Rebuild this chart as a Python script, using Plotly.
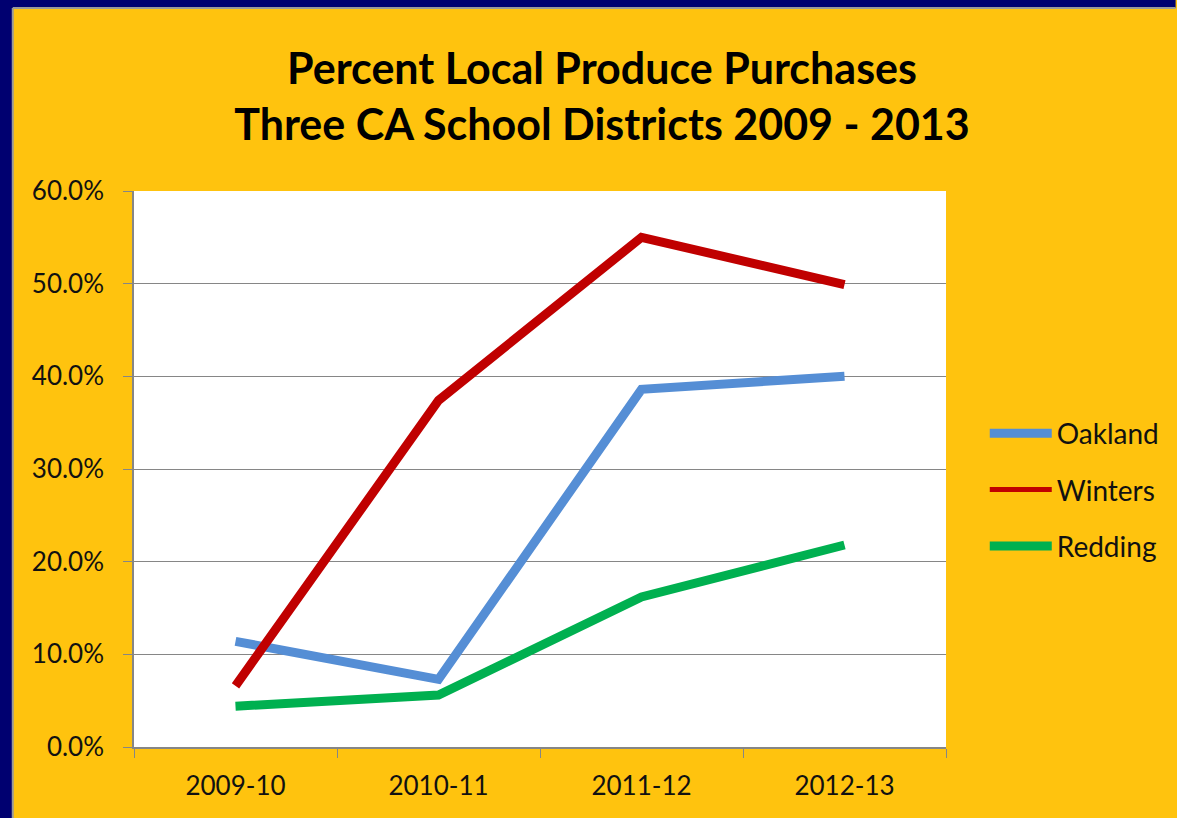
import plotly.graph_objects as go

categories = ["2009-10", "2010-11", "2011-12", "2012-13"]
oakland = [0.114, 0.073, 0.386, 0.400]
winters = [0.066, 0.374, 0.550, 0.499]
redding = [0.044, 0.056, 0.162, 0.218]
y_ticks = [0.0, 0.1, 0.2, 0.3, 0.4, 0.5, 0.6]

BLUE = "#558ED5"
RED = "#C00000"
GREEN = "#00B050"
YELLOW = "#FFC30E"
NAVY = "#000070"
FONT = "Lato, Carlito, Calibri, sans-serif"

fig = go.Figure()
series = [("Oakland", oakland, BLUE, 9), ("Winters", winters, RED, 9), ("Redding", redding, GREEN, 9)]
legend_w = {"Oakland": 9, "Winters": 5, "Redding": 9}
for name, vals, col, w in series:
    fig.add_trace(go.Scatter(x=categories, y=vals, mode="lines", name=name,
                             line=dict(color=col, width=w), showlegend=False,
                             hoverinfo="skip"))
for name, vals, col, w in series:
    fig.add_trace(go.Scatter(x=[categories[0]], y=[None], mode="lines", name=name,
                             line=dict(color=col, width=legend_w[name]),
                             legendgroup=name, showlegend=True))

L, R, T, B = 134, 951, 191, 747
W, H = 1177, 818
pw, ph = R - L, B - T

def px_x(p):
    return (p - L) / pw

def px_y(p):
    return (B - p) / ph

shapes = [
    dict(type="rect", xref="paper", yref="paper", x0=px_x(-5), x1=px_x(12), y0=px_y(H + 5), y1=px_y(-5),
         fillcolor=NAVY, line_width=0, layer="above"),
    dict(type="rect", xref="paper", yref="paper", x0=px_x(-5), x1=px_x(W + 5), y0=px_y(8), y1=px_y(-5),
         fillcolor=NAVY, line_width=0, layer="above"),
    dict(type="line", xref="paper", yref="paper", x0=px_x(12), x1=px_x(12), y0=px_y(H + 5), y1=px_y(8),
         line=dict(color="#9A9A9A", width=2), layer="above"),
    dict(type="line", xref="paper", yref="paper", x0=px_x(12), x1=px_x(W + 5), y0=px_y(8), y1=px_y(8),
         line=dict(color="#9A9A9A", width=2), layer="above"),
]

fig.update_layout(
    width=W, height=H,
    margin=dict(l=L, r=W - R, t=T, b=H - B, pad=0),
    paper_bgcolor=YELLOW, plot_bgcolor="white",
    font=dict(family=FONT, color="#000000"),
    title=dict(text="<b>Percent Local Produce Purchases<br>Three CA School Districts 2009 - 2013</b>",
               font=dict(size=43, family=FONT, color="#000000"),
               x=602 / W, xref="container", xanchor="center",
               y=1 - 84 / H, yref="container", yanchor="middle"),
    xaxis=dict(type="category", categoryorder="array", categoryarray=categories,
               tickson="boundaries", ticks="outside", ticklen=9, tickcolor="#868686",
               showline=True, linecolor="#868686", linewidth=1.5, showgrid=False,
               tickfont=dict(size=26, family=FONT, color="#111111"),
               ticklabelstandoff=15, range=[-0.5, 3.5]),
    yaxis=dict(range=[0, 0.6], tickvals=y_ticks, tickformat=".1%",
               ticks="outside", ticklen=9, tickcolor="#868686",
               showline=True, linecolor="#868686", linewidth=1.5,
               showgrid=True, gridcolor="#868686", gridwidth=1,
               tickfont=dict(size=26, family=FONT, color="#111111"),
               ticklabelstandoff=14, zeroline=False),
    legend=dict(x=(990 - L) / pw, y=px_y(490), xanchor="left", yanchor="middle",
                xref="paper", yref="paper", bgcolor="rgba(0,0,0,0)",
                font=dict(size=28, family=FONT, color="#111111"),
                itemwidth=62, tracegroupgap=17, traceorder="grouped"),
    shapes=shapes,
    showlegend=True,
)

fig.write_html("out.html", config={"displayModeBar": False},
               post_script="document.body.style.margin='0';document.body.style.overflow='hidden';")
